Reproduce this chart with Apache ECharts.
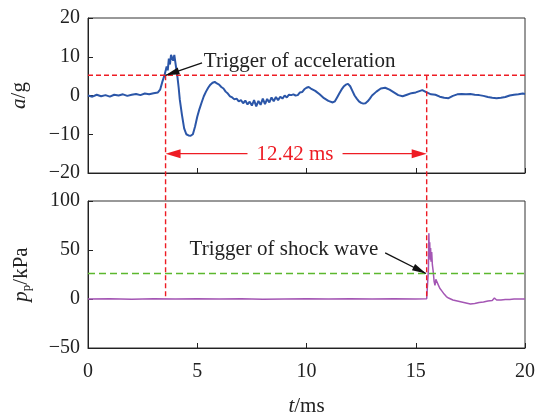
<!DOCTYPE html>
<html><head><meta charset="utf-8">
<script src="https://cdn.jsdelivr.net/npm/echarts@6/dist/echarts.min.js"></script>
<style>html,body{margin:0;padding:0;background:#fff}#c{width:536px;height:414px}</style>
</head><body><div id="c"></div>
<script>
// time axis ticks (ms)
const xTicks = [0, 5, 10, 15, 20];
const accTicks = [-20, -10, 0, 10, 20];
const pTicks = [-50, 0, 50, 100];

// acceleration a/g : [t (ms), a (g)]
const accData = [
[0,0],[0.2,-0.3],[0.4,0.2],[0.6,-0.2],[0.8,0.1],[1.0,-0.3],[1.2,0.2],[1.4,0],[1.6,0.3],[1.8,-0.1],
[2.0,0.2],[2.2,0.4],[2.4,0.1],[2.6,0.5],[2.8,0.3],[3.0,0.6],[3.2,0.8],[3.3,1.5],[3.4,3.5],[3.5,5.2],
[3.6,7.5],[3.65,6.5],[3.7,9.5],[3.75,8],[3.8,10.5],[3.85,11],[3.9,9],[3.95,10.5],[4.0,8.5],[4.05,6.5],
[4.1,4.5],[4.15,2],[4.2,-1],[4.3,-5],[4.4,-8.5],[4.5,-10],[4.6,-10.3],[4.7,-10.4],[4.8,-10],[4.9,-8],
[5.0,-5.5],[5.1,-3.5],[5.2,-1.8],[5.3,-0.2],[5.4,1],[5.5,2],[5.6,2.8],[5.7,3.3],[5.8,3.5],[5.9,3.1],
[6.0,2.8],[6.1,2.2],[6.2,1.8],[6.3,1],[6.4,0.5],[6.5,-0.2],[6.6,-0.5],[6.7,-1],[6.8,-0.8],[6.9,-1.5],
[7.0,-1.2],[7.1,-2],[7.2,-1.3],[7.3,-2.3],[7.4,-1.6],[7.5,-2.6],[7.6,-1.2],[7.7,-2.8],[7.8,-1.4],[7.9,-2.4],
[8.0,-0.8],[8.1,-2.2],[8.2,-0.9],[8.3,-1.8],[8.4,-0.5],[8.5,-1.5],[8.6,-0.4],[8.7,-1.2],[8.8,-0.3],[8.9,-0.8],
[9.0,0],[9.1,-0.5],[9.2,0.2],[9.3,0.1],[9.4,0.3],[9.5,0],[9.6,0.1],[9.7,0.8],[9.8,0.9],[9.9,1.6],
[10.0,2],[10.1,2.2],[10.2,1.8],[10.4,1.2],[10.6,0.3],[10.8,-0.7],[11.0,-1.4],[11.2,-1.8],[11.3,-1.5],[11.4,-0.5],
[11.5,0.5],[11.6,1.5],[11.7,2.3],[11.8,2.8],[11.9,3],[12.0,2.4],[12.1,1.2],[12.2,0],[12.3,-0.8],[12.4,-1.5],
[12.5,-1.9],[12.6,-2.1],[12.7,-2],[12.8,-1.5],[12.9,-0.8],[13.0,0],[13.2,1],[13.4,1.8],[13.6,2],[13.8,1.5],
[14.0,0.8],[14.2,0.1],[14.4,-0.2],[14.6,0.2],[14.8,0.6],[15.0,0.8],[15.2,1.2],[15.3,1.4],[15.5,0.8],[15.7,0.3],
[15.9,0.2],[16.1,-0.3],[16.3,-0.6],[16.5,-0.7],[16.7,-0.1],[16.9,0.3],[17.1,0.4],[17.3,0.3],[17.5,0.4],[17.7,0.2],
[17.9,0.1],[18.1,-0.1],[18.3,-0.4],[18.5,-0.6],[18.7,-0.7],[18.9,-0.6],[19.1,-0.4],[19.3,0],[19.5,0.2],[19.7,0.3],
[19.9,0.5],[20,0.4]
];

// pressure p_p/kPa : [t (ms), p (kPa)]
const pData = [
[0,0],[1,0.3],[2,-0.2],[3,0.2],[4,-0.1],[5,0.2],[6,0],[7,0.3],[8,-0.2],[9,0.1],[10,0.2],
[11,-0.1],[12,0.2],[13,0],[14,0.3],[15,0],[15.5,0.2],[15.55,0.3],[15.58,30],[15.6,67],[15.62,45],
[15.64,58],[15.66,40],[15.68,52],[15.7,38],[15.73,48],[15.76,35],[15.8,28],[15.84,18],[15.88,14],
[15.92,20],[15.96,22],[16.0,16],[16.05,14],[16.1,11],[16.2,8],[16.3,5],[16.4,2.5],[16.5,1],
[16.7,-1],[16.9,-2],[17.1,-3],[17.3,-4],[17.5,-5],[17.7,-4.5],[17.9,-3.5],[18.1,-3],[18.3,-2],
[18.5,-1.5],[18.6,1],[18.7,-1],[18.9,-1],[19.1,-0.5],[19.3,-0.5],[19.5,0],[19.7,0],[20,0]
];

// trigger values
const accTriggerLevel = 5.2;   // g
const pTriggerLevel = 26;      // kPa
const tAccTrigger = 3.55;      // ms
const tShockTrigger = 15.5;    // ms
const durationLabel = '12.42 ms';

const FONT = 'Liberation Serif';
const RED = '#ee1c24';
const GREEN = '#5cb82e';
const chart = echarts.init(document.getElementById('c'), null, {renderer: 'canvas'});
const minus = v => String(v).replace('-', '\u2212');

const axisCommon = {
  axisLine: {show: true, onZero: false, lineStyle: {color: '#222', width: 1}},
  axisTick: {show: true, inside: true, length: 5, lineStyle: {color: '#222'}},
  splitLine: {show: false},
  axisLabel: {fontFamily: FONT, fontSize: 20, color: '#222', formatter: minus}
};

chart.setOption({
  animation: false,
  grid: [
    {left: 88, right: 11, top: 18, height: 155, show: true, borderColor: '#333', borderWidth: 1, outerBoundsMode: 'none', containLabel: false},
    {left: 88, right: 11, top: 201, height: 147, show: true, borderColor: '#333', borderWidth: 1, outerBoundsMode: 'none', containLabel: false}
  ],
  xAxis: [
    Object.assign({}, axisCommon, {type: 'value', gridIndex: 0, min: 0, max: 20, interval: 5,
      axisLabel: {show: false}}),
    Object.assign({}, axisCommon, {type: 'value', gridIndex: 1, min: 0, max: 20, interval: 5,
      axisLabel: Object.assign({}, axisCommon.axisLabel, {margin: 14}),
      name: '{i|t}/ms', nameLocation: 'middle', nameGap: 48,
      nameTextStyle: {fontFamily: FONT, fontSize: 21, color: '#222',
        rich: {i: {fontFamily: FONT, fontSize: 21, fontStyle: 'italic', color: '#222'}}}})
  ],
  yAxis: [
    Object.assign({}, axisCommon, {type: 'value', gridIndex: 0, min: -20, max: 20, interval: 10,
      axisLabel: Object.assign({}, axisCommon.axisLabel, {margin: 8}),
      name: '{i|a}/g', nameLocation: 'middle', nameGap: 58,
      nameTextStyle: {fontFamily: FONT, fontSize: 21, color: '#222',
        rich: {i: {fontFamily: FONT, fontSize: 21, fontStyle: 'italic', color: '#222'}}}}),
    Object.assign({}, axisCommon, {type: 'value', gridIndex: 1, min: -50, max: 100, interval: 50,
      axisLabel: Object.assign({}, axisCommon.axisLabel, {margin: 8}),
      name: '{i|p}{s|p}/kPa', nameLocation: 'middle', nameGap: 55,
      nameTextStyle: {fontFamily: FONT, fontSize: 21, color: '#222',
        rich: {i: {fontFamily: FONT, fontSize: 21, fontStyle: 'italic', color: '#222'},
               s: {fontFamily: FONT, fontSize: 13, color: '#222', padding: [10, 0, 0, 0]}}}})
  ],
  series: [
    {type: 'line', xAxisIndex: 0, yAxisIndex: 0, data: accData, showSymbol: false,
     lineStyle: {color: '#2b56a8', width: 2}, silent: true},
    {type: 'line', xAxisIndex: 1, yAxisIndex: 1, data: pData, showSymbol: false,
     lineStyle: {color: '#a456b4', width: 1.5}, silent: true}
  ]
});

function px(g, pt) { return chart.convertToPixel({xAxisIndex: g, yAxisIndex: g}, pt); }

function arrowHead(tip, from, len, wid, color) {
  const dx = tip[0] - from[0], dy = tip[1] - from[1];
  const L = Math.hypot(dx, dy), ux = dx / L, uy = dy / L;
  const bx = tip[0] - ux * len, by = tip[1] - uy * len;
  return {type: 'polygon', silent: true, z: 100,
    shape: {points: [tip, [bx - uy * wid / 2, by + ux * wid / 2], [bx + uy * wid / 2, by - ux * wid / 2]]},
    style: {fill: color}};
}
function seg(a, b, color, dash, w) {
  return {type: 'line', silent: true, z: 100, shape: {x1: a[0], y1: a[1], x2: b[0], y2: b[1]},
    style: {stroke: color, lineWidth: w || 1, lineDash: dash || null}};
}

const g = [];
// horizontal trigger levels
const h1 = px(0, [0, accTriggerLevel]), h2 = px(0, [20, accTriggerLevel]);
g.push(seg(h1, h2, RED, [5, 3], 1.5));
const k1 = px(1, [0, pTriggerLevel]), k2 = px(1, [20, pTriggerLevel]);
g.push(seg(k1, k2, GREEN, [7, 4], 1.5));
// vertical trigger lines spanning both panels
[tAccTrigger, tShockTrigger].forEach(t => {
  const a = px(0, [t, accTriggerLevel]);
  const b = px(1, [t, 0]);
  g.push(seg(a, b, RED, [5, 3], 1.4));
});
// duration double arrow
const yDur = -15.0;
const dl1 = px(0, [tAccTrigger, yDur]), dl2 = px(0, [7.3, yDur]);
const dr1 = px(0, [11.65, yDur]), dr2 = px(0, [tShockTrigger, yDur]);
g.push(seg([dl1[0] + 10, dl1[1]], dl2, RED, null, 1.3));
g.push(arrowHead(dl1, dl2, 15, 9, RED));
g.push(seg(dr1, [dr2[0] - 10, dr2[1]], RED, null, 1.3));
g.push(arrowHead(dr2, dr1, 15, 9, RED));
const dc = px(0, [9.47, yDur]);
g.push({type: 'text', silent: true, z: 100, x: dc[0], y: dc[1] + 1,
  style: {text: durationLabel, fill: RED, font: '21px "' + FONT + '"', align: 'center', verticalAlign: 'middle'}});

// acceleration trigger annotation
const at = px(0, [5.3, 8.8]);
g.push({type: 'text', silent: true, z: 100, x: at[0], y: at[1],
  style: {text: 'Trigger of acceleration', fill: '#222', font: '21px "' + FONT + '"', align: 'left', verticalAlign: 'middle'}});
const aa1 = px(0, [5.22, 8.4]), aa2 = px(0, [tAccTrigger, accTriggerLevel]);
g.push(seg(aa1, aa2, '#111', null, 1.3));
g.push(arrowHead(aa2, aa1, 14, 7, '#111'));

// shock wave trigger annotation
const st = px(1, [4.65, 51]);
g.push({type: 'text', silent: true, z: 100, x: st[0], y: st[1],
  style: {text: 'Trigger of shock wave', fill: '#222', font: '21px "' + FONT + '"', align: 'left', verticalAlign: 'middle'}});
const sa1 = px(1, [13.6, 47]), sa2 = px(1, [tShockTrigger - 0.03, pTriggerLevel]);
g.push(seg(sa1, sa2, '#111', null, 1.3));
g.push(arrowHead(sa2, sa1, 14, 7, '#111'));

chart.setOption({graphic: g});
</script>
</body></html>
